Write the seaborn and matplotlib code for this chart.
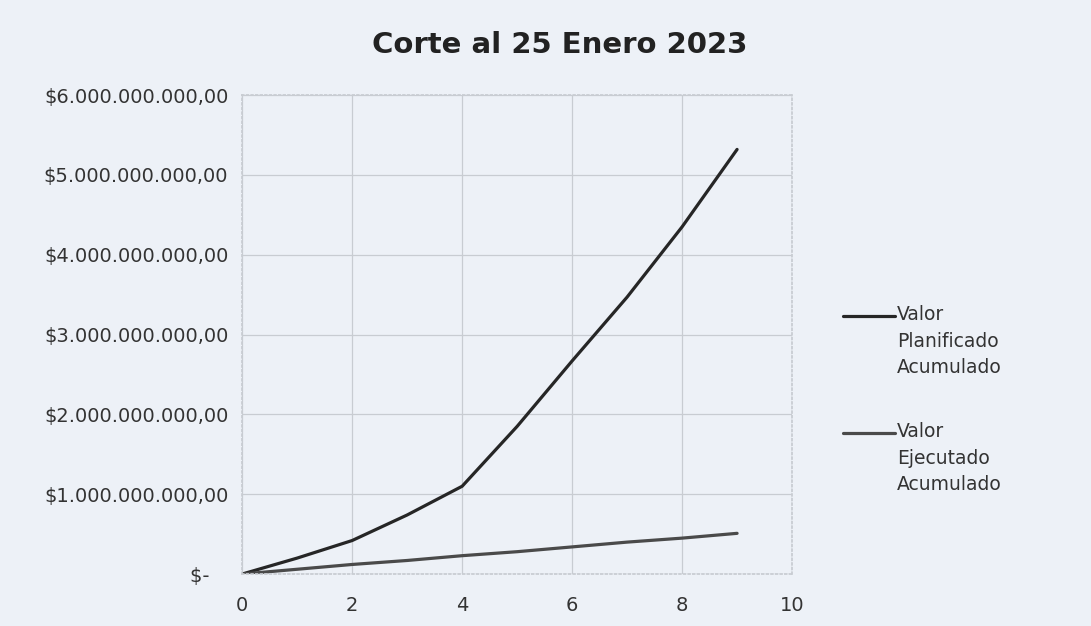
import matplotlib
matplotlib.use('Agg')
import matplotlib.pyplot as plt
from matplotlib.lines import Line2D
from matplotlib.ticker import FuncFormatter
import pandas as pd
import seaborn as sns

# values (pesos)
periods = [0, 1, 2, 3, 4, 5, 6, 7, 8, 9]
planned = [0, 0.20e9, 0.42e9, 0.74e9, 1.10e9, 1.85e9, 2.67e9, 3.47e9, 4.35e9, 5.32e9]
executed = [0, 0.06e9, 0.12e9, 0.17e9, 0.23e9, 0.28e9, 0.34e9, 0.40e9, 0.45e9, 0.51e9]
series_names = ['Valor\nPlanificado\nAcumulado', 'Valor\nEjecutado\nAcumulado']
title = 'Corte al 25 Enero 2023'
colors = ['#262626', '#4a4a4a']

df = pd.DataFrame({
    'periodo': periods * 2,
    'valor': planned + executed,
    'serie': [series_names[0]] * len(periods) + [series_names[1]] * len(periods),
})

sns.set_theme(style='whitegrid')
plt.rcParams['font.family'] = ['DejaVu Sans']

bg = '#edf1f7'
fig = plt.figure(figsize=(10.91, 6.26), dpi=100, facecolor=bg)
ax = fig.add_axes([0.222, 0.083, 0.504, 0.765], facecolor=bg)

sns.lineplot(data=df, x='periodo', y='valor', hue='serie',
             palette=colors, linewidth=2.3, ax=ax, legend=False)

ax.set_xlim(0, 10)
ax.set_ylim(0, 6e9)
ax.set_xticks(range(0, 11, 2))
ax.set_yticks([i * 1e9 for i in range(7)])


def money(v, pos):
    if v == 0:
        return '$-   '
    s = f'{v:,.2f}'
    return '$' + s.replace(',', '#').replace('.', ',').replace('#', '.')


ax.yaxis.set_major_formatter(FuncFormatter(money))
ax.tick_params(axis='both', length=0, labelsize=14, colors='#333333')
ax.tick_params(axis='y', pad=10)
ax.tick_params(axis='x', pad=16)
ax.grid(True, color='#c8ccd2', linewidth=0.9)
for sp in ax.spines.values():
    sp.set_visible(True)
    sp.set_color('#c8ccd2')
    sp.set_linestyle(':')
ax.set_xlabel('')
ax.set_ylabel('')

# legend to the right, handle level with the first text line (Excel style)
W, H = 1091, 626
for name, col, y_line in zip(series_names, colors, [316, 433]):
    fig.add_artist(Line2D([843 / W, 895 / W], [1 - y_line / H] * 2,
                          color=col, linewidth=2.3))
    fig.text(897 / W, 1 - (y_line - 11) / H, name, ha='left', va='top',
             fontsize=13.5, color='#333333', linespacing=1.5)

fig.text(0.513, 0.928, title, ha='center', va='center', fontsize=21,
         fontweight='bold', color='#222222')

fig.savefig('out.png', dpi=100, facecolor=bg)
